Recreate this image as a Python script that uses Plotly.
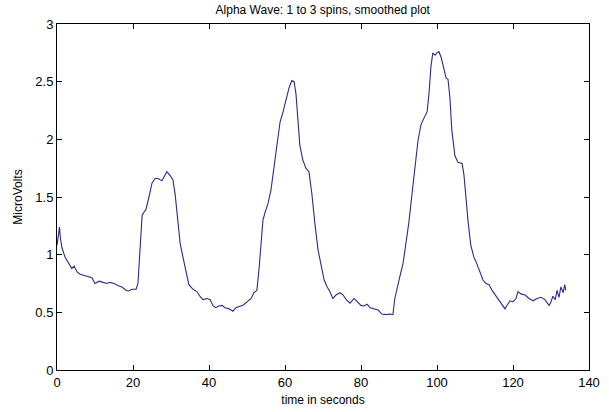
import plotly.graph_objects as go

time_s = [0, 0.4, 0.66, 0.9, 1.3, 2.1, 2.9, 3.4, 3.9, 4.5, 5.3, 6.1, 7.1, 8.2, 9.2, 10, 11.1, 12.1, 13.2, 13.9,
          15, 16.1, 17.1, 18.2, 18.9, 19.7, 20.8, 21.3, 21.8, 22.4, 22.9, 23.4, 24.2, 25, 25.8, 26.6, 27.6, 28.4,
          28.9, 29.7, 30.5, 31.1, 31.6, 32.4, 33.2, 33.9, 34.7, 35.8, 36.8, 37.6, 38.4, 39.5, 40.3, 41.1, 41.8,
          42.6, 43.4, 44.2, 45.3, 46.3, 47.1, 47.9, 48.9, 50, 51.1, 51.8, 52.6, 53.2, 53.7, 54.2, 54.7, 55.5,
          56.3, 56.8, 57.6, 58.2, 58.7, 59.5, 60.3, 61.1, 61.8, 62.4, 62.9, 63.4, 63.9, 64.7, 65.5, 66.3, 67.1,
          67.9, 68.7, 69.5, 70.3, 71.1, 71.8, 72.6, 73.4, 74.5, 75.3, 76.1, 77.1, 78.2, 79.2, 80, 80.8, 81.6,
          82.4, 83.4, 84.5, 85.5, 86.6, 87.6, 88.4, 88.9, 89.5, 90.3, 91.1, 91.8, 92.6, 93.4, 94.2, 95, 95.8,
          96.6, 97.4, 97.9, 98.4, 98.9, 99.5, 100, 100.5, 101.1, 101.6, 102.4, 102.9, 103.4, 103.9, 104.7,
          105.5, 106.6, 107.1, 107.6, 108.2, 108.9, 109.7, 110.5, 111.3, 112.1, 112.9, 113.7, 114.5, 115.3,
          116.1, 117.1, 117.9, 118.4, 119.2, 120, 120.8, 121.3, 122.1, 123.2, 124.2, 125.3, 126.3, 127.4,
          128.4, 129.5, 130, 130.5, 131.1, 131.6, 132.1, 132.6, 133.2, 133.6, 133.9]

microvolts = [1.08, 1.20, 1.24, 1.14, 1.06, 0.98, 0.94, 0.91, 0.88, 0.90, 0.85, 0.83, 0.82, 0.81, 0.80, 0.75, 0.77,
              0.76, 0.75, 0.76, 0.75, 0.73, 0.72, 0.69, 0.685, 0.70, 0.70, 0.75, 0.98, 1.34, 1.37, 1.39, 1.50,
              1.62, 1.66, 1.66, 1.64, 1.69, 1.72, 1.69, 1.65, 1.52, 1.34, 1.10, 0.97, 0.87, 0.74, 0.70, 0.68,
              0.64, 0.61, 0.62, 0.61, 0.555, 0.54, 0.555, 0.56, 0.54, 0.53, 0.51, 0.54, 0.55, 0.56, 0.59, 0.62,
              0.67, 0.69, 0.89, 1.13, 1.30, 1.36, 1.44, 1.56, 1.69, 1.88, 2.06, 2.15, 2.24, 2.34, 2.45, 2.51,
              2.50, 2.39, 2.12, 1.95, 1.82, 1.75, 1.72, 1.52, 1.26, 1.04, 0.91, 0.78, 0.72, 0.68, 0.62, 0.65,
              0.67, 0.65, 0.61, 0.58, 0.62, 0.59, 0.56, 0.555, 0.57, 0.54, 0.53, 0.52, 0.485, 0.48, 0.485, 0.48,
              0.62, 0.72, 0.82, 0.93, 1.08, 1.28, 1.52, 1.78, 1.99, 2.13, 2.19, 2.24, 2.40, 2.63, 2.75, 2.73,
              2.75, 2.76, 2.71, 2.65, 2.53, 2.52, 2.36, 2.08, 1.86, 1.80, 1.79, 1.69, 1.47, 1.28, 1.08, 0.98,
              0.92, 0.85, 0.78, 0.75, 0.74, 0.69, 0.65, 0.61, 0.56, 0.53, 0.56, 0.60, 0.59, 0.62, 0.68, 0.66,
              0.65, 0.62, 0.60, 0.62, 0.63, 0.61, 0.56, 0.59, 0.64, 0.61, 0.69, 0.63, 0.72, 0.67, 0.74, 0.69]

x_ticks = [0, 20, 40, 60, 80, 100, 120, 140]
y_ticks = [0, 0.5, 1, 1.5, 2, 2.5, 3]
y_tick_labels = ["0", "0.5", "1", "1.5", "2", "2.5", "3"]

FONT = "Liberation Sans Narrow, Liberation Sans, Arial, sans-serif"

fig = go.Figure()
fig.add_trace(go.Scatter(x=time_s, y=microvolts, mode="lines",
                         line=dict(color="#2b2b8c", width=1.1), showlegend=False))

axis_common = dict(showgrid=False, zeroline=False, showline=True, linecolor="black", linewidth=1,
                   mirror="ticks", ticks="inside", ticklen=5, tickcolor="black", tickwidth=1,
                   automargin=False,
                   tickfont=dict(family=FONT, size=13, color="black"))

fig.update_layout(
    width=609, height=412,
    margin=dict(l=57, r=20, t=24, b=42),
    paper_bgcolor="white", plot_bgcolor="white",
    title=dict(text="Alpha Wave: 1 to 3 spins, smoothed plot", x=0.53, xanchor="center",
               y=1 - 10 / 412, yref="container", yanchor="middle",
               font=dict(family=FONT, size=12, color="black")),
    xaxis=dict(range=[0, 140], tickvals=x_ticks,
               title=dict(text="time in seconds", standoff=7, font=dict(family=FONT, size=12, color="black")),
               **axis_common),
    yaxis=dict(range=[0, 3], tickvals=y_ticks, ticktext=y_tick_labels,
               title=dict(text="MicroVolts", standoff=10, font=dict(family=FONT, size=12, color="black")),
               **axis_common),
)

fig.write_html("out.html")
